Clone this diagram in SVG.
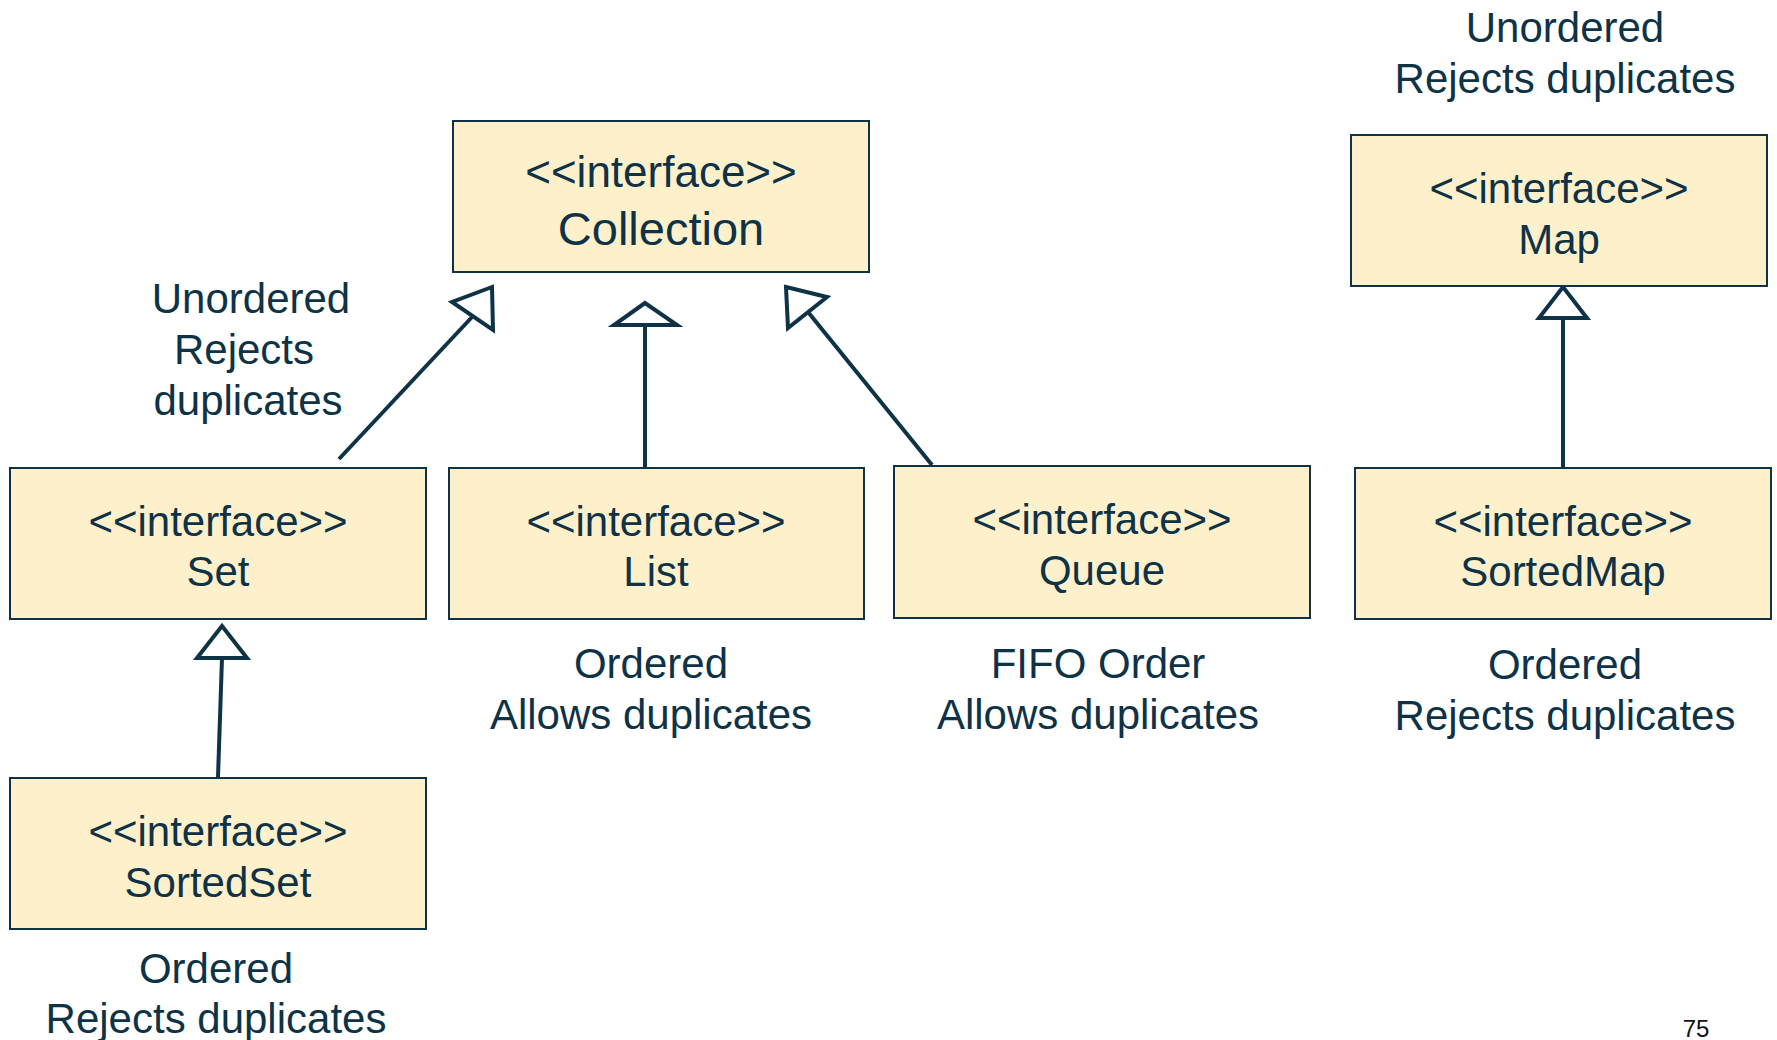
<svg xmlns="http://www.w3.org/2000/svg" width="1777" height="1040" viewBox="0 0 1777 1040">
<style>
.box{fill:#fff0cc;stroke:#0e3246;stroke-width:2}
text{font-family:"Liberation Sans",Arial,sans-serif;fill:#0e3246;text-anchor:middle}
.t{font-size:42px}
.big1{font-size:44px}
.big2{font-size:47px}
.lbl{font-size:42px}
.conn line{stroke:#0e3246;stroke-width:4}
.conn polygon{fill:#ffffff;stroke:#0e3246;stroke-width:4;stroke-linejoin:miter}
.pg{font-size:24px;fill:#111111}
</style>
<rect width="1777" height="1040" fill="#ffffff"/>
<g id="connectors" class="conn">
  <line x1="339" y1="459" x2="473" y2="316"/>
  <polygon points="492,287 452,302 493,330"/>
  <line x1="645" y1="468" x2="645" y2="325"/>
  <polygon points="645,303 614,325 677,325"/>
  <line x1="932" y1="465" x2="808" y2="312"/>
  <polygon points="786,287 827,297 788,328"/>
  <line x1="218" y1="777" x2="222" y2="658"/>
  <polygon points="222,626 197,658 247,658"/>
  <line x1="1563" y1="468" x2="1563" y2="318"/>
  <polygon points="1563,287 1539,318 1587,318"/>
</g>
<g id="collection">
  <rect class="box" x="453" y="121" width="416" height="151"/>
  <text class="big1" x="661" y="187">&lt;&lt;interface&gt;&gt;</text>
  <text class="big2" x="661" y="245">Collection</text>
</g>
<g id="set">
  <rect class="box" x="10" y="468" width="416" height="151"/>
  <text class="t" x="218" y="536">&lt;&lt;interface&gt;&gt;</text>
  <text class="t" x="218" y="586">Set</text>
</g>
<g id="list">
  <rect class="box" x="449" y="468" width="415" height="151"/>
  <text class="t" x="656" y="536">&lt;&lt;interface&gt;&gt;</text>
  <text class="t" x="656" y="586">List</text>
</g>
<g id="queue">
  <rect class="box" x="894" y="466" width="416" height="152"/>
  <text class="t" x="1102" y="534">&lt;&lt;interface&gt;&gt;</text>
  <text class="t" x="1102" y="585">Queue</text>
</g>
<g id="map">
  <rect class="box" x="1351" y="135" width="416" height="151"/>
  <text class="t" x="1559" y="203">&lt;&lt;interface&gt;&gt;</text>
  <text class="t" x="1559" y="254">Map</text>
</g>
<g id="sortedmap">
  <rect class="box" x="1355" y="468" width="416" height="151"/>
  <text class="t" x="1563" y="536">&lt;&lt;interface&gt;&gt;</text>
  <text class="t" x="1563" y="586">SortedMap</text>
</g>
<g id="sortedset">
  <rect class="box" x="10" y="778" width="416" height="151"/>
  <text class="t" x="218" y="846">&lt;&lt;interface&gt;&gt;</text>
  <text class="t" x="218" y="897">SortedSet</text>
</g>
<g id="labels" class="lbl">
  <text class="lbl" x="251" y="313">Unordered</text>
  <text class="lbl" x="244" y="364">Rejects</text>
  <text class="lbl" x="248" y="415">duplicates</text>
  <text class="lbl" x="1565" y="42">Unordered</text>
  <text class="lbl" x="1565" y="93">Rejects duplicates</text>
  <text class="lbl" x="651" y="678">Ordered</text>
  <text class="lbl" x="651" y="729">Allows duplicates</text>
  <text class="lbl" x="1098" y="678">FIFO Order</text>
  <text class="lbl" x="1098" y="729">Allows duplicates</text>
  <text class="lbl" x="1565" y="679">Ordered</text>
  <text class="lbl" x="1565" y="730">Rejects duplicates</text>
  <text class="lbl" x="216" y="983">Ordered</text>
  <text class="lbl" x="216" y="1033">Rejects duplicates</text>
</g>
<text class="pg" x="1696" y="1037">75</text>
</svg>
